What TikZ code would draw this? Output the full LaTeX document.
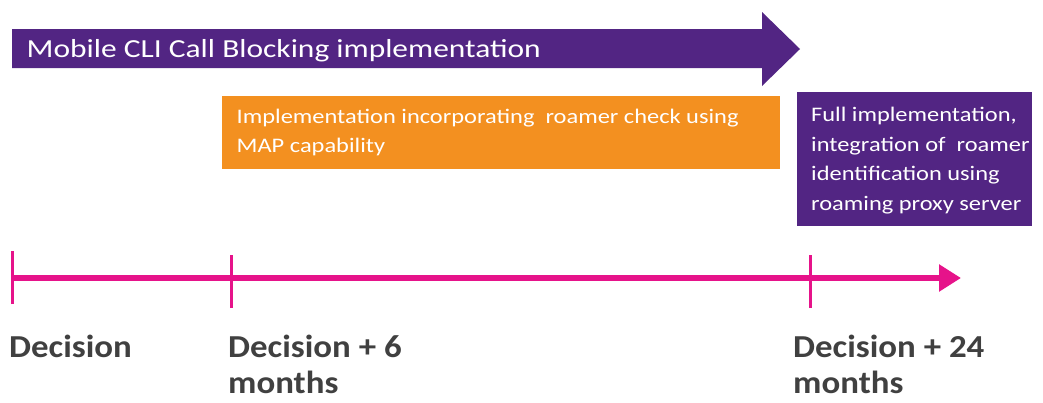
\documentclass[tikz,border=0pt]{standalone}
\usepackage{fontspec}
\setmainfont{Carlito}
\newfontfamily\titlefont[FakeStretch=1.21]{Carlito}
\newfontfamily\phasefont[FakeStretch=1.18]{Carlito}
\newfontfamily\datefont[FakeStretch=1.09]{Carlito}
\usetikzlibrary{arrows.meta}
\definecolor{planpurple}{HTML}{522583}
\definecolor{planorange}{HTML}{F39020}
\definecolor{planmagenta}{HTML}{E6138A}
\definecolor{labelgray}{HTML}{404040}
\begin{document}
\begin{tikzpicture}[x=1pt,y=-1pt,
  phasebox/.style={text=white,font=\phasefont\fontsize{20.7}{29.5}\selectfont,align=left,anchor=north west,inner sep=0pt},
  tick/.style={draw=planmagenta,line width=3pt},
  datelabel/.style={text=labelgray,font=\datefont\fontsize{32}{36}\selectfont\bfseries,align=left,anchor=north west,inner sep=0pt}]
\useasboundingbox (0,0) rectangle (1043,402);
% overall programme arrow
\fill[planpurple] (12,29) -- (762,29) -- (762,12) -- (800,49) -- (762,86) -- (762,68) -- (12,68) -- cycle;
\node[text=white,font=\titlefont\fontsize{26}{30}\selectfont,anchor=base west,inner sep=0pt] (title) at (26.5,57.3) {Mobile CLI Call Blocking implementation};
% phase boxes
\fill[planorange] (222,96) rectangle (780,169);
\node[phasebox] (phase1) at (236.5,108.5) {Implementation incorporating\ \ roamer check using\\MAP capability};
\fill[planpurple] (797,92) rectangle (1032,226);
\node[phasebox] (phase2) at (811,107) {Full implementation,\\integration of\ \ roamer\\identification using\\roaming proxy server};
% timeline
\coordinate (t0) at (12,278);
\coordinate (t1) at (231,278);
\coordinate (t2) at (810,278);
\coordinate (tend) at (961,278);
\draw[planmagenta,line width=6pt,-{Triangle[length=22pt,width=26pt]}] (t0) -- (tend);
\draw[tick] ([yshift=-26pt]t0) -- ([yshift=27pt]t0);
\draw[tick] ([yshift=-30pt]t1) -- ([yshift=23pt]t1);
\draw[tick] ([yshift=-30pt]t2) -- ([yshift=23pt]t2);
% milestone labels
\node[datelabel] (d0) at (9,334.5) {Decision};
\node[datelabel] (d1) at (228,334.5) {Decision + 6\\months};
\node[datelabel] (d2) at (793,334.5) {Decision + 24\\months};
\end{tikzpicture}
\end{document}
